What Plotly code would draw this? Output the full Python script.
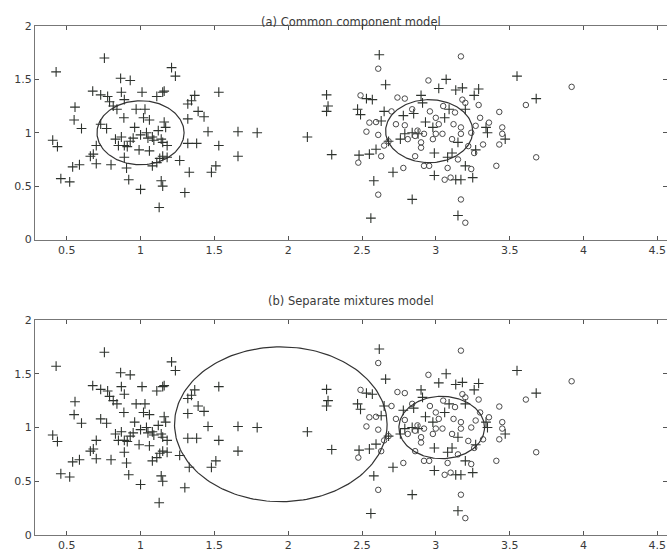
import numpy as np
import plotly.graph_objects as go

# ---- data ----
plus_x = [0.755,0.428,0.865,0.93,0.676,0.73,0.777,0.87,0.89,1.01,1.15,0.815,0.84,0.556,0.97,1.03,0.887,1.02,0.55,0.60,0.77,0.96,0.405,0.437,
          0.83,0.87,0.89,0.95,1.05,1.09,0.85,0.91,1.0,1.04,1.08,0.93,
          0.70,0.66,0.68,0.70,0.80,0.89,0.905,0.54,0.586,0.46,0.52,0.92,1.0,1.126,1.08,1.14,1.15,1.06,1.14,1.15,
          1.21,1.236,1.16,1.367,1.345,1.32,1.53,1.39,1.43,1.32,1.457,1.66,1.79,1.32,1.38,1.53,1.66,1.265,1.51,1.48,1.33,1.30,1.16,1.17,1.18,
          1.11,1.13,1.15,0.79,1.06,1.12,0.73,0.99,1.11,1.18,
          2.13,2.26,2.27,2.26,2.295,
          2.617,2.66,2.57,2.53,2.47,2.49,3.07,3.55,3.68,3.02,2.90,2.91,3.18,3.135,3.29,3.26,2.65,2.63,2.48,2.55,2.595,2.71,2.58,2.84,2.56,3.15,
          2.99,2.99,3.135,3.17,3.25,3.34,3.35,3.47,3.20,2.68,2.76,2.79,2.84,2.88,2.78,2.85,2.98,3.06,3.09,3.15,3.11,3.08,2.93,3.20,3.27]
plus_y = [1.70,1.57,1.51,1.49,1.39,1.355,1.34,1.38,1.31,1.38,1.38,1.25,1.22,1.24,1.22,1.22,1.14,1.14,1.12,1.04,1.04,1.05,0.93,0.87,
          0.94,0.96,0.88,0.95,0.95,0.93,0.88,0.87,0.98,1.0,0.96,0.92,
          0.88,0.78,0.80,0.71,0.70,0.77,0.67,0.68,0.70,0.57,0.54,0.56,0.47,0.30,0.69,0.55,0.50,0.83,0.94,0.91,
          1.61,1.53,1.39,1.35,1.30,1.27,1.38,1.20,1.15,1.13,1.01,1.01,1.00,0.90,0.90,0.88,0.78,0.74,0.69,0.63,0.63,0.44,1.10,1.05,0.88,
          1.34,0.76,0.78,1.29,1.12,1.02,1.08,0.84,0.72,0.77,
          0.96,1.355,1.25,1.20,0.795,
          1.73,1.45,1.31,1.32,1.22,1.17,1.50,1.53,1.32,1.415,1.35,1.28,1.42,1.40,1.41,1.35,1.20,1.11,0.79,0.80,0.845,0.63,0.55,0.376,0.20,0.225,
          0.81,0.60,0.56,0.56,0.58,1.05,1.00,0.94,0.69,0.92,0.94,0.99,1.0,0.99,1.16,1.18,1.05,1.14,1.22,0.91,0.81,0.77,1.10,1.22,0.84]

circ_x = [3.17,2.61,2.95,3.92,2.49,2.74,2.79,3.18,3.20,3.29,3.61,3.43,2.55,2.595,2.53,2.61,2.73,2.79,2.876,2.92,3.0,3.045,3.17,3.11,3.24,3.32,
          3.26,3.22,3.36,3.30,3.27,3.45,3.45,3.43,3.68,3.41,2.475,2.63,2.78,2.86,2.92,2.955,3.08,3.06,3.10,3.24,2.61,3.17,3.20,2.65,2.68,
          2.81,2.86,2.90,2.98,3.0,3.02,3.13,3.17,3.12,2.70,2.84,3.05,2.96,3.15,2.90]
circ_y = [1.715,1.60,1.49,1.43,1.35,1.33,1.32,1.31,1.28,1.26,1.26,1.195,1.095,1.10,1.01,0.98,1.08,1.07,1.02,0.99,0.99,0.99,0.99,0.94,1.00,0.89,
          0.81,0.875,1.095,1.14,1.065,1.05,0.99,0.89,0.77,0.69,0.72,0.78,0.67,0.78,0.69,0.69,0.67,0.56,0.58,0.66,0.42,0.375,0.157,0.88,0.92,
          0.94,0.97,0.91,0.94,1.14,1.08,1.19,1.05,1.08,1.20,1.22,1.25,1.20,0.75,0.86]

# ellipses: centre x, centre y, radius x, radius y
ell_a_cx = [1.00, 2.955]
ell_a_cy = [1.00, 1.015]
ell_a_rx = [0.295, 0.295]
ell_a_ry = [0.30, 0.295]
ell_b_cx = [1.95, 3.04]
ell_b_cy = [1.03, 1.00]
ell_b_rx = [0.72, 0.29]
ell_b_ry = [0.72, 0.29]

titles = ["(a) Common component model", "(b) Separate mixtures model"]
xticks = [0.5, 1, 1.5, 2, 2.5, 3, 3.5, 4, 4.5]
yticks = [0, 0.5, 1, 1.5, 2]

W, H = 667, 556
fig = go.Figure()

t = np.linspace(0, 2 * np.pi, 200)
plus_col = "#2e332e"
circ_col = "#4a4a4a"
FONT = "DejaVu Sans, Arial"

for k, (cxs, cys, rxs, rys) in enumerate([(ell_a_cx, ell_a_cy, ell_a_rx, ell_a_ry),
                                          (ell_b_cx, ell_b_cy, ell_b_rx, ell_b_ry)]):
    xa = "x" if k == 0 else "x2"
    ya = "y" if k == 0 else "y2"
    fig.add_trace(go.Scatter(x=plus_x, y=plus_y, mode="markers", xaxis=xa, yaxis=ya,
                             marker=dict(symbol="cross-thin-open", size=7, color=plus_col,
                                         line=dict(width=1.1, color=plus_col)),
                             showlegend=False))
    fig.add_trace(go.Scatter(x=circ_x, y=circ_y, mode="markers", xaxis=xa, yaxis=ya,
                             marker=dict(symbol="circle-open", size=5.5, color=circ_col,
                                         line=dict(width=1, color=circ_col)),
                             showlegend=False))
    for cx, cy, rx, ry in zip(cxs, cys, rxs, rys):
        fig.add_trace(go.Scatter(x=cx + rx * np.cos(t), y=cy + ry * np.sin(t),
                                 mode="lines", xaxis=xa, yaxis=ya,
                                 line=dict(color="#333333", width=1.2),
                                 showlegend=False, hoverinfo="skip"))

xrange = [0.285, 4.566]
ax_common = dict(showgrid=False, zeroline=False, showline=True, mirror="ticks",
                 linecolor="#777777", linewidth=1, ticks="inside", ticklen=4,
                 tickcolor="#555555", tickfont=dict(family=FONT, size=11, color="#3a3a3a"),
                 automargin=False)

def ydom(top, bot):
    return [1 - bot / H, 1 - top / H]

fig.update_layout(
    width=W, height=H,
    margin=dict(l=35, r=0, t=0, b=0),
    paper_bgcolor="white", plot_bgcolor="white",
    xaxis=dict(range=xrange, tickvals=xticks, ticktext=[str(v) for v in xticks], anchor="y", **ax_common),
    yaxis=dict(range=[0, 2], tickvals=yticks, ticktext=[str(v) for v in yticks], domain=ydom(26, 239.5), anchor="x", **ax_common),
    xaxis2=dict(range=xrange, tickvals=xticks, ticktext=[str(v) for v in xticks], anchor="y2", **ax_common),
    yaxis2=dict(range=[0, 2], tickvals=yticks, ticktext=[str(v) for v in yticks], domain=ydom(320, 535), anchor="x2", **ax_common),
    annotations=[
        dict(text=titles[0], x=0.5, y=1 - 13 / H, xref="paper", yref="paper",
             showarrow=False, font=dict(family=FONT, size=11.5, color="#3a3a3a")),
        dict(text=titles[1], x=0.5, y=1 - 301 / H, xref="paper", yref="paper",
             showarrow=False, font=dict(family=FONT, size=11.5, color="#3a3a3a")),
    ],
)

fig.write_html("out.html")
